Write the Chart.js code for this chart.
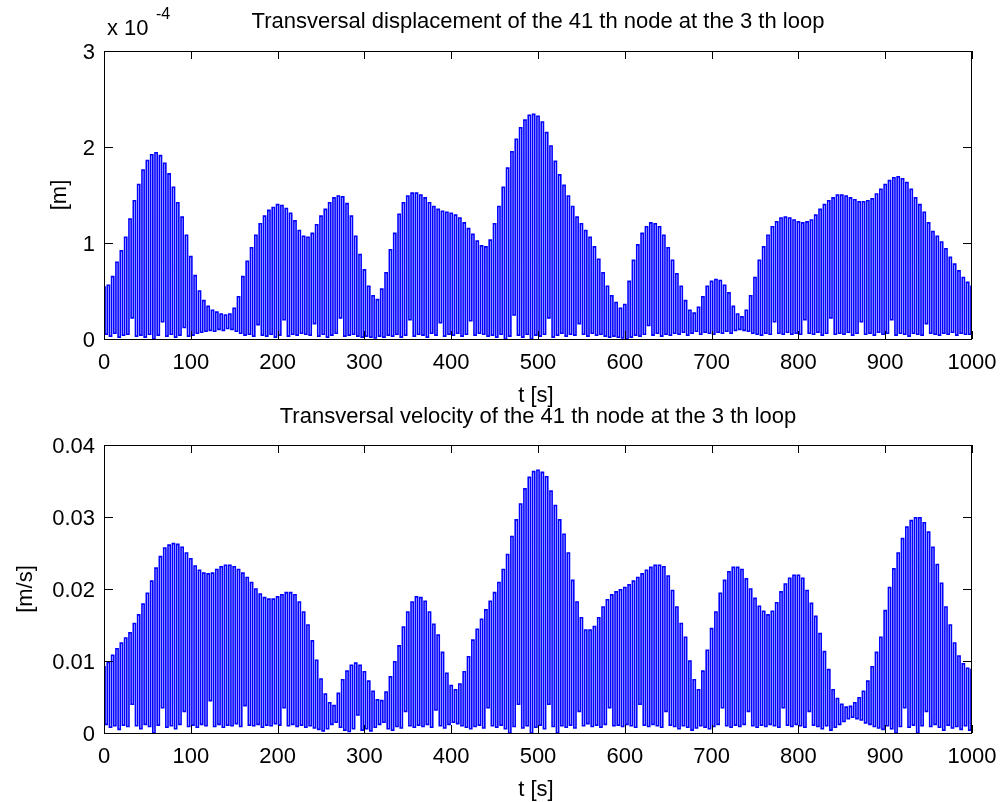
<!DOCTYPE html>
<html lang="en">
<head>
    <meta charset="UTF-8">
    <title>Transversal displacement and velocity of the 41 th node</title>
    <script src="https://cdn.jsdelivr.net/npm/chart.js"></script>
    <style>
        body { margin: 0; background: #fff; }
        canvas { position: absolute; left: 0; }
        #dispChart { top: 0; }
        #velChart { top: 401px; }
    </style>
</head>
<body>
    <canvas id="dispChart" width="1004" height="430"></canvas>
    <canvas id="velChart" width="1004" height="401"></canvas>
    <script>
        // time axis: peaks read every 5 s, troughs in between
        const step = 5;
        const xTicks = [0, 100, 200, 300, 400, 500, 600, 700, 800, 900, 1000];

        // displacement [m], in units of 1e-4 (axis carries "x 10^-4")
        const dispTicks = [0, 1, 2, 3];
        const dispPeaks = [
            0.54,0.56,0.65,0.80,0.92,1.06,1.25,1.44,1.61,1.76,1.86,1.92,1.94,1.91,1.83,1.72,1.58,1.42,1.27,1.08,
            0.86,0.66,0.50,0.40,0.34,0.30,0.28,0.26,0.25,0.26,0.32,0.44,0.65,0.81,0.95,1.08,1.20,1.28,1.34,1.37,
            1.40,1.39,1.36,1.31,1.23,1.13,1.07,1.06,1.10,1.19,1.28,1.35,1.42,1.47,1.49,1.48,1.41,1.28,1.07,0.88,
            0.72,0.55,0.45,0.41,0.52,0.69,0.93,1.10,1.30,1.42,1.49,1.52,1.52,1.50,1.47,1.42,1.38,1.35,1.33,1.32,
            1.31,1.29,1.26,1.21,1.15,1.09,1.02,0.97,0.96,1.03,1.20,1.38,1.58,1.78,1.95,2.08,2.20,2.28,2.33,2.34,
            2.32,2.26,2.15,2.01,1.85,1.71,1.60,1.49,1.38,1.27,1.20,1.13,1.06,0.96,0.83,0.69,0.55,0.45,0.38,0.32,
            0.36,0.60,0.82,0.98,1.10,1.17,1.21,1.20,1.17,1.08,0.95,0.82,0.68,0.55,0.40,0.30,0.27,0.33,0.44,0.55,
            0.60,0.62,0.61,0.56,0.48,0.34,0.26,0.23,0.30,0.45,0.64,0.82,0.96,1.08,1.17,1.22,1.26,1.27,1.26,1.24,
            1.22,1.21,1.22,1.24,1.29,1.35,1.40,1.44,1.47,1.50,1.50,1.49,1.47,1.45,1.43,1.43,1.44,1.46,1.51,1.56,
            1.61,1.65,1.68,1.69,1.67,1.63,1.56,1.47,1.40,1.32,1.21,1.12,1.07,1.01,0.94,0.85,0.78,0.71,0.64,0.59,
            0.55
        ];
        const dispTroughs = [
            0.05,0.03,0.06,0.02,0.04,0.05,0.22,0.03,0.04,0.02,0.05,0.00,0.04,0.18,0.03,0.05,0.02,0.04,0.12,0.03,
            0.04,0.06,0.07,0.08,0.09,0.08,0.10,0.09,0.11,0.10,0.08,0.06,0.04,0.05,0.03,0.15,0.04,0.03,0.05,0.02,
            0.04,0.20,0.03,0.05,0.04,0.06,0.05,0.04,0.16,0.03,0.05,0.02,0.04,0.06,0.22,0.03,0.04,0.05,0.03,0.02,
            0.03,0.02,0.01,0.03,0.02,0.04,0.03,0.05,0.02,0.04,0.20,0.03,0.05,0.04,0.02,0.06,0.04,0.17,0.03,0.05,
            0.04,0.06,0.03,0.05,0.19,0.04,0.06,0.05,0.03,0.04,0.02,0.05,0.00,0.03,0.25,0.04,0.02,0.05,0.00,0.04,
            0.03,0.05,0.22,0.02,0.04,0.06,0.03,0.05,0.04,0.16,0.05,0.03,0.06,0.04,0.05,0.03,0.02,0.03,0.02,0.01,
            0.00,0.02,0.04,0.03,0.05,0.14,0.04,0.06,0.03,0.05,0.04,0.06,0.05,0.07,0.04,0.06,0.08,0.05,0.07,0.06,
            0.05,0.07,0.06,0.08,0.06,0.09,0.10,0.09,0.08,0.06,0.05,0.04,0.06,0.05,0.18,0.06,0.05,0.07,0.05,0.06,
            0.05,0.20,0.06,0.05,0.07,0.04,0.06,0.22,0.05,0.06,0.05,0.07,0.04,0.06,0.18,0.05,0.06,0.04,0.07,0.05,
            0.06,0.20,0.04,0.06,0.05,0.03,0.06,0.05,0.04,0.16,0.06,0.05,0.04,0.06,0.05,0.07,0.04,0.06,0.05,0.05
        ];

        // velocity [m/s]
        const velTicks = [0, 0.01, 0.02, 0.03, 0.04];
        const velPeaks = [
            0.0092,0.0098,0.0108,0.0117,0.0125,0.0132,0.0139,0.0152,0.0164,0.0179,0.0194,0.0211,0.0229,0.0245,0.0257,0.0261,0.0263,0.0262,0.0258,0.0250,
            0.0242,0.0232,0.0226,0.0222,0.0221,0.0222,0.0227,0.0231,0.0233,0.0233,0.0231,0.0227,0.0222,0.0216,0.0209,0.0200,0.0193,0.0188,0.0186,0.0186,
            0.0189,0.0192,0.0195,0.0195,0.0192,0.0182,0.0168,0.0150,0.0128,0.0101,0.0075,0.0054,0.0042,0.0038,0.0055,0.0074,0.0086,0.0094,0.0097,0.0094,
            0.0085,0.0072,0.0058,0.0046,0.0045,0.0057,0.0078,0.0099,0.0121,0.0147,0.0168,0.0182,0.0189,0.0188,0.0183,0.0168,0.0151,0.0136,0.0112,0.0083,
            0.0066,0.0060,0.0068,0.0085,0.0106,0.0129,0.0144,0.0158,0.0171,0.0183,0.0195,0.0209,0.0227,0.0248,0.0273,0.0296,0.0318,0.0339,0.0355,0.0363,
            0.0365,0.0362,0.0356,0.0336,0.0316,0.0296,0.0276,0.0250,0.0212,0.0182,0.0160,0.0143,0.0143,0.0148,0.0160,0.0175,0.0185,0.0192,0.0196,0.0199,
            0.0202,0.0206,0.0211,0.0216,0.0221,0.0226,0.0230,0.0233,0.0233,0.0231,0.0218,0.0198,0.0175,0.0152,0.0133,0.0100,0.0074,0.0060,0.0086,0.0115,
            0.0145,0.0168,0.0194,0.0212,0.0224,0.0230,0.0230,0.0227,0.0214,0.0200,0.0187,0.0176,0.0169,0.0164,0.0169,0.0181,0.0196,0.0207,0.0215,0.0219,
            0.0219,0.0215,0.0198,0.0180,0.0162,0.0138,0.0113,0.0088,0.0060,0.0048,0.0040,0.0036,0.0037,0.0042,0.0049,0.0058,0.0072,0.0092,0.0112,0.0133,
            0.0170,0.0202,0.0228,0.0250,0.0270,0.0286,0.0295,0.0299,0.0299,0.0292,0.0279,0.0258,0.0234,0.0208,0.0175,0.0150,0.0125,0.0107,0.0096,0.0090,
            0.0088
        ];
        const velTroughs = [
            0.0012,0.0008,0.0010,0.0005,0.0011,0.0009,0.0040,0.0010,0.0006,0.0012,0.0009,0.0000,0.0011,0.0035,0.0008,0.0010,0.0006,0.0012,0.0030,0.0009,
            0.0011,0.0008,0.0012,0.0010,0.0045,0.0009,0.0012,0.0008,0.0011,0.0010,0.0013,0.0009,0.0038,0.0011,0.0010,0.0012,0.0008,0.0011,0.0010,0.0013,
            0.0011,0.0035,0.0010,0.0012,0.0009,0.0011,0.0008,0.0010,0.0007,0.0005,0.0003,0.0006,0.0012,0.0015,0.0008,0.0004,0.0002,0.0006,0.0025,0.0004,
            0.0006,0.0003,0.0008,0.0012,0.0015,0.0006,0.0004,0.0009,0.0007,0.0030,0.0010,0.0008,0.0011,0.0009,0.0012,0.0008,0.0032,0.0010,0.0007,0.0012,
            0.0015,0.0013,0.0010,0.0008,0.0006,0.0009,0.0011,0.0007,0.0035,0.0010,0.0008,0.0011,0.0006,0.0000,0.0009,0.0040,0.0007,0.0010,0.0000,0.0008,
            0.0011,0.0006,0.0040,0.0009,0.0000,0.0010,0.0008,0.0011,0.0007,0.0030,0.0010,0.0013,0.0009,0.0011,0.0008,0.0012,0.0035,0.0010,0.0011,0.0009,
            0.0012,0.0010,0.0008,0.0040,0.0011,0.0009,0.0012,0.0010,0.0008,0.0030,0.0011,0.0009,0.0006,0.0010,0.0008,0.0004,0.0007,0.0010,0.0008,0.0006,
            0.0009,0.0012,0.0035,0.0010,0.0008,0.0011,0.0009,0.0012,0.0030,0.0010,0.0008,0.0011,0.0009,0.0012,0.0010,0.0008,0.0035,0.0011,0.0009,0.0012,
            0.0010,0.0008,0.0030,0.0011,0.0009,0.0006,0.0010,0.0004,0.0008,0.0012,0.0016,0.0020,0.0022,0.0020,0.0018,0.0014,0.0012,0.0009,0.0007,0.0005,
            0.0010,0.0006,0.0000,0.0009,0.0035,0.0008,0.0011,0.0000,0.0010,0.0030,0.0009,0.0012,0.0008,0.0004,0.0011,0.0007,0.0009,0.0005,0.0010,0.0004
        ];

        const FONT = '"Liberation Sans", Arial, Helvetica, sans-serif';

        // peak at each step, trough half a step later
        function zigzag(peaks, troughs) {
            const pts = [];
            for (let i = 0; i < peaks.length; i++) {
                pts.push({ x: i * step, y: peaks[i] });
                if (i < troughs.length) pts.push({ x: i * step + step / 2, y: troughs[i] });
            }
            return pts;
        }

        // MATLAB-like box, inward ticks on all sides, labels and title
        const matlabAxes = {
            id: 'matlabAxes',
            afterDatasetsDraw(chart, args, o) {
                const { ctx, chartArea: a } = chart;
                const xs = chart.scales.x, ys = chart.scales.y;
                ctx.save();
                ctx.strokeStyle = '#000';
                ctx.lineWidth = 1;
                ctx.beginPath();
                ctx.rect(a.left + 0.5, a.top + 0.5, a.right - a.left - 1, a.bottom - a.top);
                for (const v of xTicks) {
                    const px = Math.round(xs.getPixelForValue(v)) + 0.5;
                    ctx.moveTo(px, a.bottom); ctx.lineTo(px, a.bottom - 8);
                    ctx.moveTo(px, a.top); ctx.lineTo(px, a.top + 8);
                }
                for (const v of o.yTicks) {
                    const py = Math.round(ys.getPixelForValue(v)) + 0.5;
                    ctx.moveTo(a.left, py); ctx.lineTo(a.left + 9, py);
                    ctx.moveTo(a.right, py); ctx.lineTo(a.right - 9, py);
                }
                ctx.stroke();

                ctx.fillStyle = '#000';
                ctx.font = '22px ' + FONT;
                ctx.textBaseline = 'alphabetic';
                ctx.textAlign = 'center';
                for (const v of xTicks) {
                    ctx.fillText(String(v), xs.getPixelForValue(v), a.bottom + 30);
                }
                ctx.textAlign = 'right';
                for (const v of o.yTicks) {
                    ctx.fillText(String(v), a.left - 9, ys.getPixelForValue(v) + 8);
                }
                ctx.textAlign = 'center';
                ctx.fillText('t [s]', (a.left + a.right) / 2 - 2, a.bottom + 63);
                ctx.fillText(o.title, (a.left + a.right) / 2, o.titleY);

                ctx.save();
                ctx.translate(o.yLabelX, (a.top + a.bottom) / 2);
                ctx.rotate(-Math.PI / 2);
                ctx.fillText(o.yLabel, 0, 0);
                ctx.restore();

                if (o.exponent) {
                    ctx.textAlign = 'left';
                    ctx.fillText('x 10', a.left + 3, a.top - 16);
                    ctx.font = '16px ' + FONT;
                    ctx.fillText(o.exponent, a.left + 52, a.top - 32);
                }
                ctx.restore();
            }
        };

        function makeChart(id, peaks, troughs, yMax, padding, axesOpts) {
            const ctx = document.getElementById(id).getContext('2d');
            return new Chart(ctx, {
                type: 'line',
                data: {
                    datasets: [{
                        data: zigzag(peaks, troughs),
                        borderColor: 'rgb(0, 0, 255)',
                        borderWidth: 1.6,
                        stepped: 'middle',
                        pointRadius: 0,
                        fill: false
                    }]
                },
                options: {
                    responsive: false,
                    animation: false,
                    layout: { padding: padding },
                    scales: {
                        x: { type: 'linear', min: 0, max: 1000, display: false },
                        y: { min: 0, max: yMax, display: false }
                    },
                    plugins: {
                        legend: { display: false },
                        tooltip: { enabled: false },
                        matlabAxes: axesOpts
                    }
                },
                plugins: [matlabAxes]
            });
        }

        makeChart('dispChart', dispPeaks, dispTroughs, 3,
            { left: 104, right: 32, top: 51, bottom: 91 },
            {
                yTicks: dispTicks,
                title: 'Transversal displacement of the 41 th node at the 3 th loop',
                titleY: 28,
                yLabel: '[m]',
                yLabelX: 66,
                exponent: '-4'
            });

        makeChart('velChart', velPeaks, velTroughs, 0.04,
            { left: 104, right: 32, top: 44, bottom: 69 },
            {
                yTicks: velTicks,
                title: 'Transversal velocity of the 41 th node at the 3 th loop',
                titleY: 22,
                yLabel: '[m/s]',
                yLabelX: 32
            });
    </script>
</body>
</html>
